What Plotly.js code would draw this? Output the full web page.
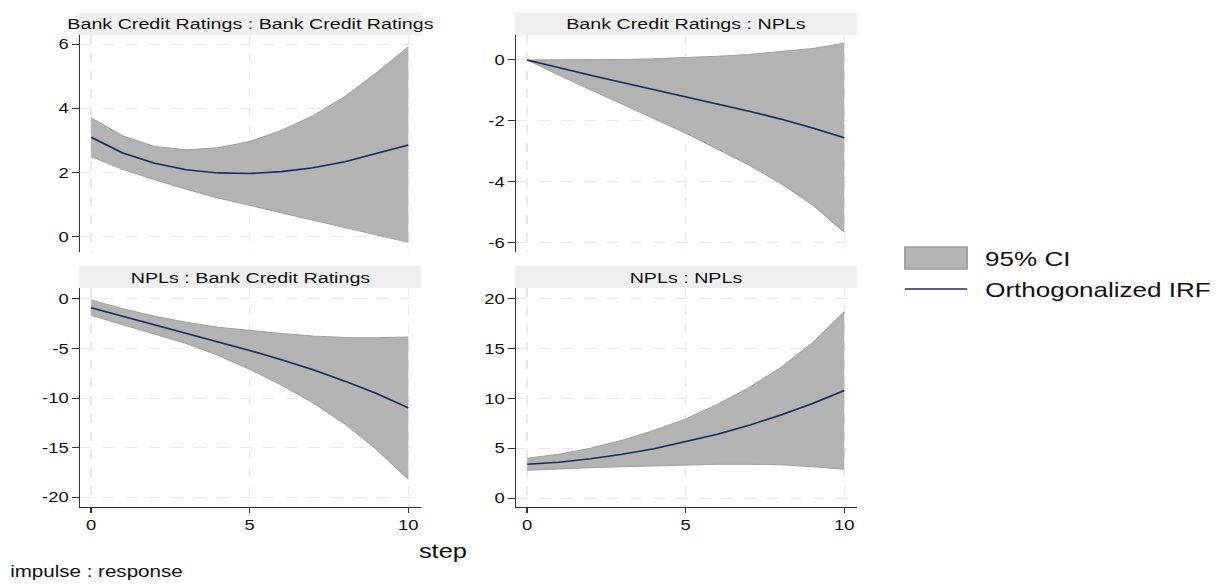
<!DOCTYPE html>
<html>
<head>
<meta charset="utf-8">
<script src="https://cdn.plot.ly/plotly-3.0.1.min.js"></script>
<style>
html,body{margin:0;padding:0;background:#fff;overflow:hidden;width:1225px;height:586px;}
#chart{width:965px;height:586px;transform:scaleX(1.26943);transform-origin:0 0;}
</style>
</head>
<body>
<div id="chart"></div>
<script>
const steps = [0,1,2,3,4,5,6,7,8,9,10];
const panelTitles = ["Bank Credit Ratings : Bank Credit Ratings", "Bank Credit Ratings : NPLs", "NPLs : Bank Credit Ratings", "NPLs : NPLs"];
const legendLabels = ["95% CI", "Orthogonalized IRF"];

const irf_bcr_bcr   = [3.10, 2.61, 2.29, 2.09, 1.99, 1.97, 2.03, 2.15, 2.34, 2.59, 2.86];
const upper_bcr_bcr = [3.70, 3.14, 2.81, 2.71, 2.77, 2.97, 3.31, 3.77, 4.36, 5.10, 5.90];
const lower_bcr_bcr = [2.50, 2.10, 1.78, 1.48, 1.21, 0.98, 0.74, 0.51, 0.29, 0.07, -0.17];

const irf_bcr_npl   = [0, -0.26, -0.50, -0.74, -0.97, -1.20, -1.44, -1.68, -1.94, -2.23, -2.55];
const upper_bcr_npl = [0, 0.00, 0.01, 0.02, 0.04, 0.07, 0.12, 0.18, 0.27, 0.38, 0.55];
const lower_bcr_npl = [0, -0.50, -0.98, -1.45, -1.92, -2.40, -2.92, -3.45, -4.05, -4.75, -5.65];

const irf_npl_bcr   = [-0.9, -1.75, -2.6, -3.45, -4.3, -5.2, -6.15, -7.15, -8.3, -9.55, -11.0];
const upper_npl_bcr = [-0.1, -1.0, -1.75, -2.35, -2.85, -3.2, -3.5, -3.75, -3.9, -3.92, -3.85];
const lower_npl_bcr = [-1.65, -2.6, -3.5, -4.5, -5.7, -7.1, -8.7, -10.5, -12.6, -15.2, -18.2];

const irf_npl_npl   = [3.4, 3.6, 3.95, 4.4, 4.95, 5.65, 6.4, 7.3, 8.35, 9.5, 10.8];
const upper_npl_npl = [4.0, 4.4, 5.0, 5.8, 6.8, 7.95, 9.4, 11.1, 13.1, 15.6, 18.7];
const lower_npl_npl = [2.8, 2.95, 3.05, 3.15, 3.25, 3.35, 3.4, 3.4, 3.35, 3.15, 2.9];

const yTicks = [[0,2,4,6],[-6,-4,-2,0],[-20,-15,-10,-5,0],[0,5,10,15,20]];
const yRanges = [[-0.47, 6.28],[-6.3, 0.82],[-21.0, 1.1],[-0.9, 21.1]];
const xTicks = [0,5,10];

// final (photographed) pixel frame; plot is drawn narrower then stretched horizontally
const W = 1225, H = 586, PW = 965;
const fx = p => p / W;
const fy = p => 1 - p / H;

// pixel boxes in final frame: [left, right, top, bottom]
const boxes = [[80,421,35,252],[516,857,35,252],[80,421,288,507],[516,857,288,507]];
const irfs = [irf_bcr_bcr, irf_bcr_npl, irf_npl_bcr, irf_npl_npl];
const uppers = [upper_bcr_bcr, upper_bcr_npl, upper_npl_bcr, upper_npl_npl];
const lowers = [lower_bcr_bcr, lower_bcr_npl, lower_npl_bcr, lower_npl_npl];

const fillCol = '#b3b3b3';
const edgeCol = '#a0a0a0';
const lineCol = '#1b2a5c';
const fam = 'Liberation Sans, Arial, sans-serif';
const font = {family: fam, color: '#111', size: 14.5};

const traces = [];
const layout = {
  width: PW, height: H,
  margin: {l:0, r:0, t:0, b:0},
  paper_bgcolor: '#fff', plot_bgcolor: '#fff',
  font: font,
  showlegend: false,
  shapes: [], annotations: []
};

for (let i = 0; i < 4; i++) {
  const k = i + 1;
  const xa = 'x' + (k === 1 ? '' : k), ya = 'y' + (k === 1 ? '' : k);
  const [l, r, t, b] = boxes[i];
  traces.push({x: steps, y: lowers[i], xaxis: xa, yaxis: ya, type: 'scatter', mode: 'lines',
    line: {color: edgeCol, width: 1}, showlegend: false, hoverinfo: 'skip'});
  traces.push({x: steps, y: uppers[i], xaxis: xa, yaxis: ya, type: 'scatter', mode: 'lines',
    fill: 'tonexty', fillcolor: fillCol, line: {color: edgeCol, width: 1},
    name: legendLabels[0]});
  traces.push({x: steps, y: irfs[i], xaxis: xa, yaxis: ya, type: 'scatter', mode: 'lines',
    line: {color: lineCol, width: 1.6}, name: legendLabels[1]});

  const bottomRow = i >= 2;
  layout['xaxis' + (k === 1 ? '' : k)] = {
    domain: [fx(l), fx(r)], anchor: ya, range: [-0.35, 10.4],
    tickvals: xTicks, ticktext: xTicks.map(String), showticklabels: bottomRow,
    ticks: bottomRow ? 'outside' : '', ticklen: 5, tickcolor: '#333',
    showline: bottomRow, linecolor: '#333', linewidth: 1,
    showgrid: true, gridcolor: '#e8e8e8', griddash: 'dash', gridwidth: 1, zeroline: false,
    tickfont: {size: 14.5, family: fam, color: '#111'}
  };
  layout['yaxis' + (k === 1 ? '' : k)] = {
    domain: [fy(b), fy(t)], anchor: xa, range: yRanges[i],
    tickvals: yTicks[i], ticktext: yTicks[i].map(String), ticks: 'outside', ticklen: 5, tickcolor: '#333',
    showline: true, linecolor: '#333', linewidth: 1,
    showgrid: true, gridcolor: '#e8e8e8', griddash: 'dash', gridwidth: 1, zeroline: false,
    tickfont: {size: 14.5, family: fam, color: '#111'}
  };
  // title strip
  const stripTop = t - 22;
  layout.shapes.push({type: 'rect', xref: 'paper', yref: 'paper', x0: fx(l - 1), x1: fx(r), y0: fy(t), y1: fy(stripTop),
    fillcolor: '#efefef', line: {width: 0}, layer: 'below'});
  layout.annotations.push({xref: 'paper', yref: 'paper', x: fx((l + r) / 2), y: fy(stripTop + 11), xanchor: 'center', yanchor: 'middle',
    text: panelTitles[i], showarrow: false, font: {size: 15.5, family: fam, color: '#111'}});
}

// legend (drawn as key + labels)
layout.shapes.push({type: 'rect', xref: 'paper', yref: 'paper', x0: fx(905), x1: fx(967), y0: fy(269), y1: fy(247),
  fillcolor: fillCol, line: {color: edgeCol, width: 1.5}});
layout.shapes.push({type: 'line', xref: 'paper', yref: 'paper', x0: fx(905), x1: fx(967), y0: fy(289), y1: fy(289),
  line: {color: lineCol, width: 1.6}});
layout.annotations.push({xref: 'paper', yref: 'paper', x: fx(982), y: fy(258), xanchor: 'left', yanchor: 'middle',
  text: legendLabels[0], showarrow: false, font: {size: 20.5, family: fam, color: '#111'}});
layout.annotations.push({xref: 'paper', yref: 'paper', x: fx(982), y: fy(289), xanchor: 'left', yanchor: 'middle',
  text: legendLabels[1], showarrow: false, font: {size: 20.5, family: fam, color: '#111'}});

layout.annotations.push({xref: 'paper', yref: 'paper', x: fx(443), y: fy(551), xanchor: 'center', yanchor: 'middle',
  text: 'step', showarrow: false, font: {size: 20, family: fam, color: '#111'}});
layout.annotations.push({xref: 'paper', yref: 'paper', x: fx(8), y: fy(571), xanchor: 'left', yanchor: 'middle',
  text: 'impulse : response', showarrow: false, font: {size: 16.2, family: fam, color: '#111'}});

Plotly.newPlot('chart', traces, layout, {staticPlot: true});
</script>
</body>
</html>
